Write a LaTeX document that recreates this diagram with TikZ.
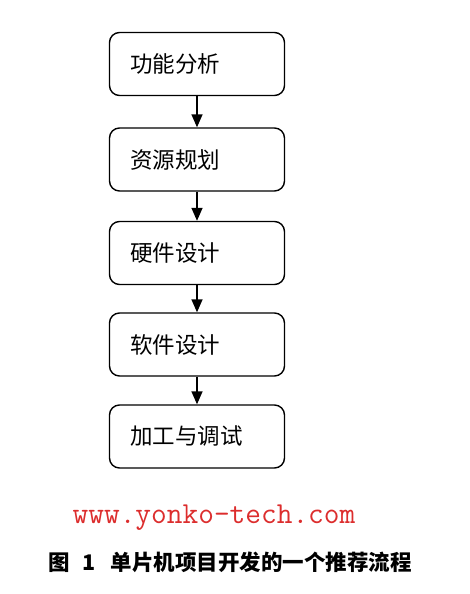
\documentclass[tikz,border=0pt]{standalone}
\usepackage{fontspec}
\newfontfamily\cjk{Noto Sans CJK SC}
\usetikzlibrary{arrows.meta}
\definecolor{wmred}{RGB}{220,45,45}
\begin{document}
\begin{tikzpicture}[x=1pt,y=-1pt,
  stepbox/.style={draw=black,line width=1.4pt,rounded corners=10pt,minimum width=175pt,minimum height=63pt,inner sep=0pt,text width=134pt,align=left,font=\cjk\fontsize{22.5}{24}\selectfont},
  flow/.style={line width=1.5pt,-{Triangle[length=13pt,width=11pt]}}]
\useasboundingbox (0,0) rectangle (470,594);
\node[stepbox] (a) at (197,64) {\raisebox{1.5pt}{功能分析}};
\node[stepbox] (b) at (197,159.5) {\raisebox{1.5pt}{资源规划}};
\node[stepbox] (c) at (197,253) {\raisebox{1.5pt}{硬件设计}};
\node[stepbox] (d) at (197,344.5) {\raisebox{1.5pt}{软件设计}};
\node[stepbox] (e) at (197,436.5) {\raisebox{1.5pt}{加工与调试}};
\draw[flow] (a) -- (b);
\draw[flow] (b) -- (c);
\draw[flow] (c) -- (d);
\draw[flow] (d) -- (e);
\node[text=wmred,font=\ttfamily\fontsize{30.5}{32}\selectfont,inner sep=0pt] (w) at (214,518) {www.yonko-tech.com};
\node[font=\cjk\bfseries\fontsize{21.5}{24}\selectfont,inner sep=0pt] (cap) at (230,562) {图\hspace{13pt}1\hspace{15pt}单片机项目开发的一个推荐流程};
\end{tikzpicture}
\end{document}
